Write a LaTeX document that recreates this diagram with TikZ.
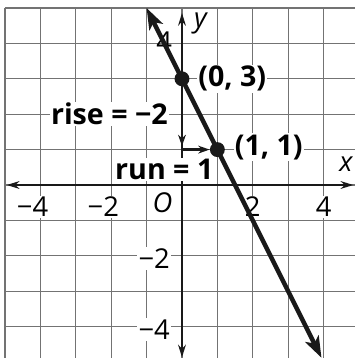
\documentclass[tikz,border=0pt]{standalone}
\usepackage{fontspec}
\setmainfont{Open Sans}
\usetikzlibrary{arrows.meta}
\tikzset{
  gridline/.style={draw=black!55, line width=0.9pt},
  axisline/.style={draw=black!90, line width=1.5pt, arrows={Stealth[length=0.36cm,width=0.22cm]-Stealth[length=0.36cm,width=0.22cm]}},
  mainline/.style={draw=black!90, line width=3.6pt, arrows={Stealth[length=0.6cm,width=0.42cm,inset=0.15cm]-Stealth[length=0.6cm,width=0.42cm,inset=0.15cm]}},
  stepline/.style={draw=black!90, line width=2pt, -{Stealth[length=0.32cm,width=0.22cm]}},
  dotmark/.style={circle, fill=black!90, inner sep=0pt, minimum size=0.42cm},
  lbl/.style={fill=white, inner sep=1pt, font=\fontsize{23}{26}\selectfont\bfseries},
  ticklbl/.style={fill=white, inner sep=1pt, font=\fontsize{22}{25}\selectfont},
  axlbl/.style={inner sep=0pt, font=\fontsize{22}{25}\selectfont\itshape},
}
\begin{document}
\begin{tikzpicture}[x=1cm,y=1cm]
\useasboundingbox (-5.141,-4.887) rectangle (4.887,5.226);
\fill[white] (-5.141,-4.887) rectangle (4.887,5.226);
% grid
\draw[gridline] (-5,-4.9) grid (4.9,5);
% axes
\coordinate (xl) at (-4.95,0);
\coordinate (xr) at (4.84,0);
\coordinate (yb) at (0,-4.87);
\coordinate (yt) at (0,4.86);
\draw[axisline] (xl) -- (xr);
\draw[axisline] (yb) -- (yt);
% tick labels
\node[ticklbl] (tx1) at (-4,-0.62) {\llap{−}4};
\node[ticklbl] (tx2) at (-2,-0.62) {\llap{−}2};
\node[ticklbl] (tx3) at (2,-0.62) {2};
\node[ticklbl] (tx4) at (4,-0.62) {4};
\node[ticklbl, anchor=east] (ty1) at (-0.3,-2.08) {−2};
\node[ticklbl, anchor=east] (ty2) at (-0.3,-4.08) {−4};
\node[ticklbl, fill=none] (ty3) at (-0.5,4.05) {4};
\node[axlbl] (orig) at (-0.55,-0.5) {O};
\node[axlbl] (xlab) at (4.63,0.58) {x};
\node[axlbl] (ylab) at (0.52,4.55) {y};
% points
\coordinate (A) at (0,3);
\coordinate (B) at (1,1);
\coordinate (C) at (0,1);
\coordinate (Lt) at (-1,5);
\coordinate (Lb) at (3.94,-4.88);
% rise and run
\draw[stepline] (A) -- (0,1.1);
\draw[stepline] (C) -- (0.78,1);
% labels
\node[lbl, anchor=east] (rise) at (-0.36,2.0) {rise = −2};
\node[lbl] (run) at (-0.5,0.44) {run = 1};
\node[lbl, anchor=west] (pA) at (0.42,3.0) {(0, 3)};
\node[lbl, anchor=west] (pB) at (1.45,1.07) {(1, 1)};
% main line
\draw[mainline] (Lt) -- (Lb);
\node[dotmark] (dA) at (A) {};
\node[dotmark] (dB) at (B) {};
\end{tikzpicture}
\end{document}
